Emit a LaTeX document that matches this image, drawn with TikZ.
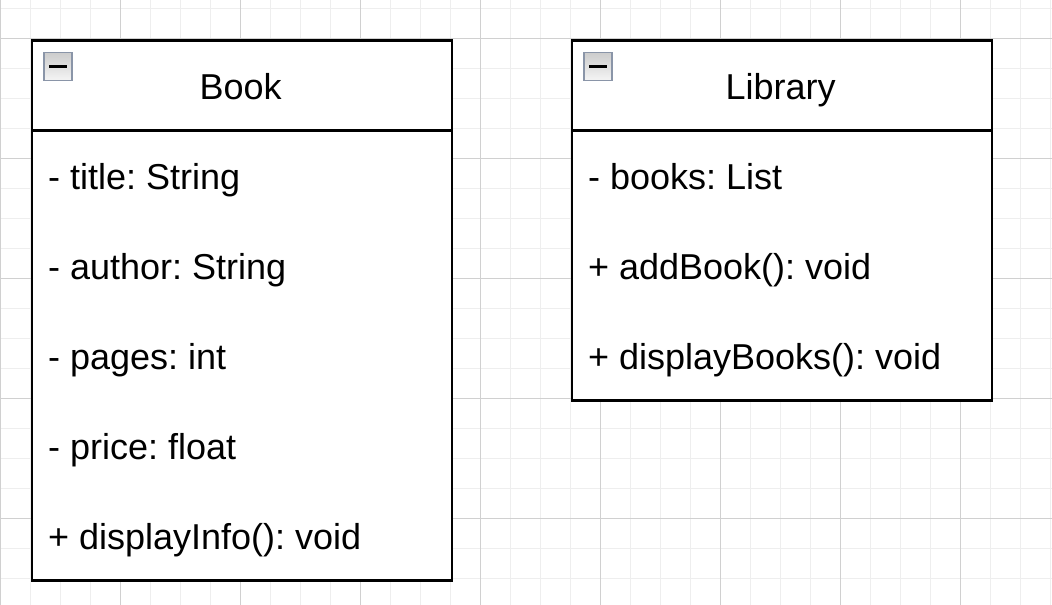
\documentclass[tikz,border=0pt]{standalone}
\usepackage{fontspec}
\setmainfont{Liberation Sans}
\usepackage{tikz}
\usetikzlibrary{positioning}
\definecolor{gridminor}{HTML}{EEEEEE}
\definecolor{gridmajor}{HTML}{D0D0D0}
\definecolor{iconedge}{HTML}{8A95A8}
\frenchspacing

\begin{document}
\begin{tikzpicture}[
  x=15pt, y=-15pt,
  font=\fontsize{18}{21}\selectfont,
  minorlines/.style={draw=gridminor, line width=0.5pt},
  majorlines/.style={draw=gridmajor, line width=0.5pt},
  classbox/.style={draw, line width=1.4pt, anchor=north west, minimum width=210pt, inner sep=0pt},
  headbox/.style={draw, line width=1.4pt, anchor=north west, minimum width=210pt, minimum height=45pt, inner sep=0pt},
  classname/.style={anchor=base, inner sep=0pt},
  member/.style={anchor=base west, inner sep=0pt},
  collapse/.style={draw=iconedge, line width=0.8pt, top color=gray!40, bottom color=gray!8,
    minimum size=14pt, inner sep=0pt},
  minusbar/.style={black, line width=1.7pt},
]
\useasboundingbox (-0.02,-1.3) rectangle (35.047,18.867);

% background grid
\foreach \i in {0,...,35} \draw[minorlines] (\i,-1.3) -- (\i,18.867);
\foreach \j in {-1,...,18} \draw[minorlines] (-0.02,\j) -- (35.047,\j);
\foreach \i in {0,4,...,32} \draw[majorlines] (\i,-1.3) -- (\i,18.867);
\foreach \j in {0,4,...,16} \draw[majorlines] (-0.02,\j) -- (35.047,\j);

% ========== Book ==========
\node[classbox, fill=white, minimum height=270pt] (book) at (1,0) {};
\node[headbox] (book_head) at (1,0) {};
\node[classname] (book_name) at (8,2.03) {Book};
\node[collapse] (book_icon) at (1.91,0.92) {};
\draw[minusbar] ([xshift=-4.4pt]book_icon.center) -- ([xshift=4.4pt]book_icon.center);
\node[member] (book_title) at (1.57,5.02) {- title: String};
\node[member] (book_author) at (1.57,8.02) {- author: String};
\node[member] (book_pages) at (1.57,11.02) {- pages: int};
\node[member] (book_price) at (1.57,14.02) {- price: float};
\node[member] (book_info) at (1.57,17.02) {+ displayInfo(): void};

% ========== Library ==========
\node[classbox, fill=white, minimum height=180pt] (library) at (19,0) {};
\node[headbox] (library_head) at (19,0) {};
\node[classname] (library_name) at (26,2.03) {Library};
\node[collapse] (library_icon) at (19.91,0.92) {};
\draw[minusbar] ([xshift=-4.4pt]library_icon.center) -- ([xshift=4.4pt]library_icon.center);
\node[member] (library_books) at (19.57,5.02) {- books: List};
\node[member] (library_add) at (19.57,8.02) {+ addBook(): void};
\node[member] (library_show) at (19.57,11.02) {+ displayBooks(): void};

\end{tikzpicture}
\end{document}
